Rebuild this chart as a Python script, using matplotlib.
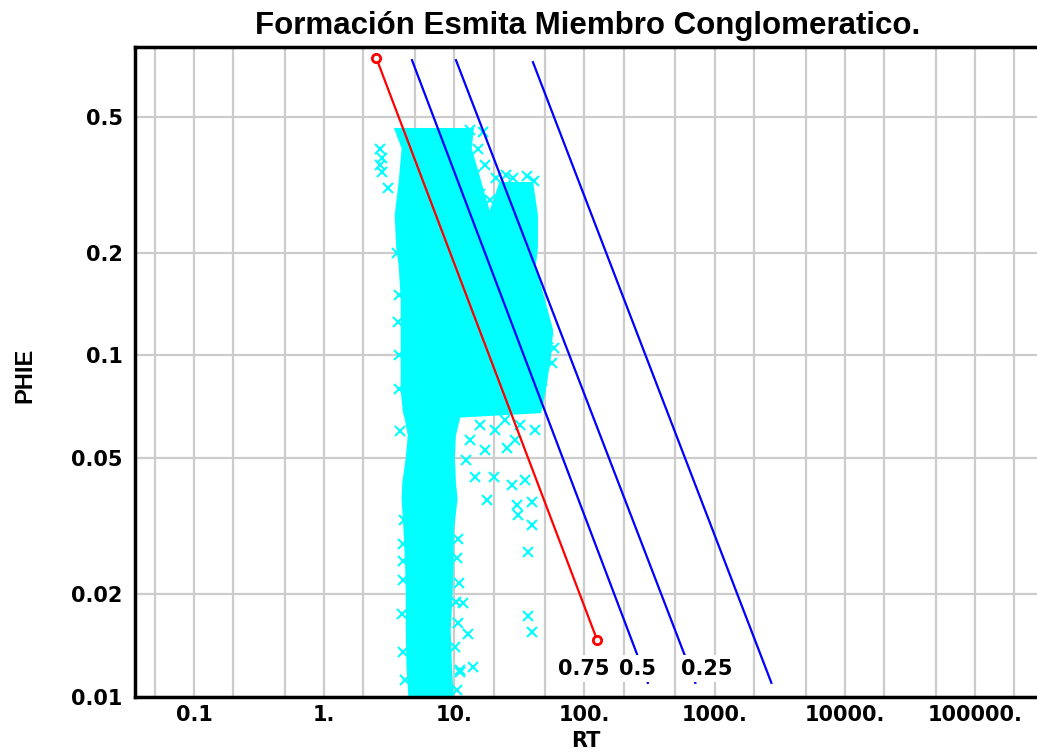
import matplotlib
matplotlib.use('Agg')
import matplotlib.pyplot as plt

# ejes
rt_grid = [0.05, 0.1, 0.2, 0.5, 1, 2, 5, 10, 20, 50, 100, 200, 500, 1000, 2000,
           5000, 10000, 20000, 50000, 100000, 200000]
rt_labels = {0.1: '0.1', 1: '1.', 10: '10.', 100: '100.', 1000: '1000.',
             10000: '10000.', 100000: '100000.'}
phie_ticks = [0.01, 0.02, 0.05, 0.1, 0.2, 0.5]
phie_labels = ['0.01', '0.02', '0.05', '0.1', '0.2', '0.5']

# nube densa de puntos (bordes)
core_phie = [0.465, 0.405, 0.323, 0.258, 0.207, 0.184, 0.147, 0.119, 0.100, 0.079,
             0.068, 0.066, 0.0585, 0.0504, 0.0426, 0.0382, 0.0303, 0.0243, 0.0199,
             0.0157, 0.0124, 0.0100]
core_rt_lo = [3.4, 3.9, 3.7, 3.45, 3.55, 3.7, 3.84, 3.84, 3.84, 3.84,
              4.0, 4.1, 4.35, 4.2, 3.95, 3.9, 4.05, 4.15, 4.2,
              4.2, 4.25, 4.4]
core_rt_hi = [14.0, 13.5, 16.0, 19.0, 22.0, 42.0, 49.0, 57.0, 55.0, 50.0,
              46.0, 11.0, 10.2, 10.0, 10.2, 10.5, 9.8, 9.8, 9.6,
              9.3, 9.5, 9.8]
cluster_phie = [0.323, 0.258, 0.207, 0.184]
cluster_rt_lo = [22.0, 18.0, 19.0, 20.0]
cluster_rt_hi = [40.0, 43.5, 43.5, 42.0]

# puntos sueltos y borde de la nube
pts_rt = [2.70, 2.79, 2.70, 2.79, 3.11,
          13.3, 16.7, 15.3, 17.3, 14.5, 18.9, 15.8,
          24.7, 32.2, 42.0, 20.7, 29.5, 13.3, 15.8, 12.2,
          17.3, 14.5, 20.0, 17.9, 25.6, 27.9, 35.2, 30.5, 31.1, 39.8, 39.8, 37.1,
          11.7, 12.8, 14.0, 11.1, 37.1, 39.8,
          4.0, 4.05, 3.95, 4.05, 4.15, 4.1, 4.05,
          10.6, 10.4, 10.8, 10.3, 10.7, 10.2, 11.0, 10.5,
          3.75, 3.7, 3.75, 3.65, 3.75, 3.85,
          45.0, 52.0, 58.0, 56.0, 47.0, 44.0,
          21.0, 25.0, 28.0, 36.0, 41.0]
pts_phie = [0.401, 0.379, 0.362, 0.345, 0.310,
            0.458, 0.452, 0.401, 0.362, 0.338, 0.286, 0.296,
            0.0647, 0.0625, 0.0605, 0.0605, 0.0565, 0.0565, 0.0625, 0.0494,
            0.0528, 0.0440, 0.0440, 0.0377, 0.0535, 0.0417, 0.0431, 0.0365, 0.0341, 0.0372, 0.0318, 0.0265,
            0.0189, 0.0153, 0.0122, 0.0118, 0.0173, 0.0155,
            0.028, 0.022, 0.0175, 0.0135, 0.0112, 0.0330, 0.0250,
            0.0290, 0.0255, 0.0215, 0.0190, 0.0165, 0.0140, 0.0120, 0.0105,
            0.150, 0.125, 0.100, 0.200, 0.080, 0.060,
            0.140, 0.112, 0.105, 0.095, 0.085, 0.075,
            0.330, 0.338, 0.330, 0.335, 0.325]

# lineas de Sw
sw1_rt = [2.51, 125.0]
sw1_phie = [0.744, 0.0147]
sw_rt = [[4.73, 307.0], [10.3, 711.0], [40.2, 2730.0]]
sw_phie = [[0.732, 0.0110], [0.732, 0.0110], [0.722, 0.0110]]
sw_text = ['0.75', '0.5', '0.25']
sw_text_rt = [99.0, 256.0, 876.0]
sw_text_phie = [0.0121, 0.0121, 0.0121]

fig = plt.figure(figsize=(10.37, 7.53), dpi=100)
ax = fig.add_axes([0.1302, 0.0744, 0.8698, 0.8632])
ax.set_xscale('log')
ax.set_yscale('log')
ax.set_xlim(0.0352, 3.0e5)
ax.set_ylim(0.01, 0.8)

ax.set_xticks(rt_grid)
ax.set_xticklabels([rt_labels.get(v, '') for v in rt_grid])
ax.xaxis.set_minor_locator(matplotlib.ticker.NullLocator())
ax.set_yticks(phie_ticks)
ax.set_yticklabels(phie_labels)
ax.yaxis.set_minor_locator(matplotlib.ticker.NullLocator())
ax.tick_params(length=0, labelsize=15)
ax.tick_params(axis='x', pad=6)
ax.tick_params(axis='y', pad=9)
for lab in ax.get_xticklabels() + ax.get_yticklabels():
    lab.set_fontweight('bold')
ax.grid(True, color='#cccccc', linewidth=1.6)
ax.set_axisbelow(True)

for s in ['left', 'top', 'bottom']:
    ax.spines[s].set_linewidth(2.5)
ax.spines['right'].set_visible(False)

# nube
ax.fill_betweenx(core_phie, core_rt_lo, core_rt_hi, color='#00ffff', lw=0, zorder=2)
ax.fill_betweenx(cluster_phie, cluster_rt_lo, cluster_rt_hi, color='#00ffff', lw=0, zorder=2)
ax.plot(pts_rt, pts_phie, 'x', color='#00ffff', ms=7, mew=1.5, zorder=2)

# lineas
ax.plot(sw1_rt, sw1_phie, color='red', lw=1.6, zorder=4)
ax.plot(sw1_rt, sw1_phie, 'o', mfc='white', mec='red', ms=6, mew=2, zorder=5)
for r, p in zip(sw_rt, sw_phie):
    ax.plot(r, p, color='blue', lw=1.6, zorder=4)
for t, r, p in zip(sw_text, sw_text_rt, sw_text_phie):
    ax.text(r, p, t, ha='center', va='center', fontsize=15, fontweight='bold',
            bbox=dict(facecolor='white', edgecolor='none', pad=2.5), zorder=6)

fig.text(0.567, 0.9548, 'Formación Esmita Miembro Conglomeratico.', ha='center',
         va='baseline', fontsize=22.5, fontweight='bold', family='Liberation Sans')
fig.text(0.565, 0.003, 'RT', ha='center', va='bottom', fontsize=15, fontweight='bold')
fig.text(0.024, 0.502, 'PHIE', rotation=90, ha='center', va='center', fontsize=17,
         fontweight='bold', family=['Liberation Sans Narrow', 'Liberation Sans'])

fig.savefig('out.png', dpi=100)
